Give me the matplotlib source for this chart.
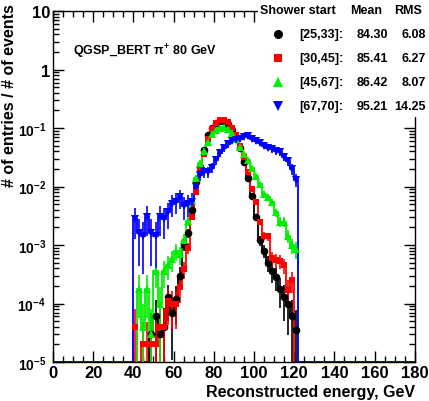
import matplotlib
matplotlib.use('Agg')
import matplotlib.pyplot as plt
from matplotlib.lines import Line2D
from matplotlib.patches import Rectangle
from matplotlib.transforms import ScaledTranslation
import numpy as np

plt.rcParams['font.family'] = ['Liberation Sans', 'DejaVu Sans']
plt.rcParams['font.weight'] = 'bold'
plt.rcParams['mathtext.fontset'] = 'custom'
plt.rcParams['mathtext.rm'] = 'Liberation Sans:bold'
plt.rcParams['mathtext.bf'] = 'Liberation Sans:bold'
plt.rcParams['mathtext.it'] = 'Liberation Sans:bold'

# bin centres of the filled region (2 GeV bins, 40..122 GeV)
centres = [41, 43, 45, 47, 49, 51, 53, 55, 57, 59, 61, 63, 65, 67, 69, 71, 73, 75, 77, 79,
           81, 83, 85, 87, 89, 91, 93, 95, 97, 99, 101, 103, 105, 107, 109, 111, 113, 115, 117, 119, 121]

black_vals = [0, 0, 0, 0, 3e-5, 6e-5, 3e-5, 4e-5, 1.3e-4, 7e-5, 1.2e-4, 3e-4, 1.0e-3, 1.6e-3, 4e-3,
              1.2e-2, 2.2e-2, 4.2e-2, 7.5e-2, 1.0e-1, 1.2e-1, 1.3e-1, 1.3e-1, 1.15e-1, 9.2e-2,
              6.8e-2, 4.5e-2, 2.6e-2, 1.4e-2, 7e-3, 3e-3, 1.2e-3, 8e-4, 5e-4, 3.6e-4, 2.8e-4,
              1.8e-4, 1.3e-4, 1e-4, 6e-5, 3.5e-5]
red_vals = [4e-5, 0, 2e-5, 2e-5, 2e-5, 2e-5, 4e-5, 4e-5, 1.1e-4, 1e-4, 1e-4, 1.9e-4, 3.9e-4, 9e-4,
            3e-3, 8e-3, 1.9e-2, 3.6e-2, 6.5e-2, 9.5e-2, 1.2e-1, 1.35e-1, 1.35e-1, 1.25e-1, 1.02e-1,
            7.5e-2, 5e-2, 3.2e-2, 1.8e-2, 9e-3, 5.4e-3, 2.5e-3, 1.45e-3, 1.4e-3, 6e-4, 5.5e-4,
            5.4e-4, 4.5e-4, 1.7e-4, 2.5e-4, 0]
green_vals = [0, 1.8e-4, 4e-5, 1.8e-4, 3e-5, 3.6e-4, 1e-4, 3.6e-4, 4.5e-4, 5.7e-4, 8e-4, 7e-4,
              1.2e-3, 2.6e-3, 6e-3, 1.4e-2, 2.5e-2, 4e-2, 5.8e-2, 7.8e-2, 9.2e-2, 1.02e-1, 1.05e-1,
              9.8e-2, 8.3e-2, 6.5e-2, 4.8e-2, 3.6e-2, 2.8e-2, 2.1e-2, 1.5e-2, 1.1e-2, 7.5e-3,
              6.5e-3, 5.4e-3, 3.6e-3, 2.5e-3, 2.5e-3, 1.45e-3, 1.0e-3, 8.5e-4]
blue_vals = [2.8e-3, 1.6e-3, 1.4e-3, 3e-3, 1.6e-3, 1.4e-3, 3e-3, 2.8e-3, 3.6e-3, 5e-3, 5.5e-3,
             6.5e-3, 4.7e-3, 5e-3, 5.5e-3, 1e-2, 1.6e-2, 1.8e-2, 1.8e-2, 2.1e-2, 2.8e-2, 3.8e-2,
             4.5e-2, 5.3e-2, 6e-2, 6.3e-2, 6.6e-2, 7e-2, 7.2e-2, 6.6e-2, 6e-2, 5.6e-2,
             5e-2, 4.6e-2, 4.4e-2, 4.1e-2, 3.9e-2, 3.2e-2, 2.7e-2, 2e-2, 1.3e-2]

# number of events per sample (sets the size of the error bars)
n_events = [20000, 25000, 12000, 1200]

ranges = ['[25,33]:', '[30,45]:', '[45,67]:', '[67,70]:']
means = ['84.30', '85.41', '86.42', '95.21']
rms = ['6.08', '6.27', '8.07', '14.25']

colors = ['black', '#ff0000', '#00ee00', '#0000ff']
markers = ['o', 's', '^', 'v']
msizes = [5.5, 5, 5.5, 5.5]

YMIN = 1e-5

fig = plt.figure(figsize=(4.29, 4.02), dpi=100)
ax = fig.add_axes([0.1235, 0.097, 0.8435, 0.873])

edges = np.arange(0, 182, 2)
for vals, nev, col, mk, ms in zip([black_vals, red_vals, green_vals, blue_vals], n_events,
                                  colors, markers, msizes):
    full = np.zeros(len(edges) - 1)
    idx = ((np.array(centres) - 1) // 2).astype(int)
    full[idx] = vals
    ax.stairs(np.where(full > 0, full, YMIN), edges, color=col, lw=1.3, zorder=2)
    v = np.array(vals)
    c = np.array(centres)
    ok = v > 0
    err = np.sqrt(v[ok] / nev)
    lo = np.minimum(err, v[ok] * 0.999)
    ax.errorbar(c[ok], v[ok], yerr=[lo, err], fmt=mk, color=col, ms=ms, mew=0,
                elinewidth=1.2, capsize=0, zorder=3)

ax.set_yscale('log')
ax.set_xlim(0, 180)
ax.set_ylim(YMIN, 10)

ax.set_xticks(np.arange(0, 181, 20))
ax.set_xticks(np.arange(0, 181, 5), minor=True)
ax.set_xticklabels([str(t) for t in range(0, 181, 20)], fontsize=12, fontweight='bold')
yt = [1e-5, 1e-4, 1e-3, 1e-2, 1e-1, 1, 10]
ax.set_yticks(yt)
ax.set_yticklabels([r'$10^{-5}$', r'$10^{-4}$', r'$10^{-3}$', r'$10^{-2}$', r'$10^{-1}$', '1', '10'],
                   fontsize=12)
ax.yaxis.set_minor_locator(matplotlib.ticker.LogLocator(base=10, subs=np.arange(2, 10), numticks=20))
ax.yaxis.set_minor_formatter(matplotlib.ticker.NullFormatter())
ax.tick_params(which='both', direction='in', top=True, right=True, width=1)
ax.tick_params(which='major', length=8, pad=2)
ax.tick_params(which='minor', length=4)
for s in ax.spines.values():
    s.set_linewidth(1)

# exponent labels are a bit smaller and sit further left, as in ROOT
for lab in ax.get_yticklabels()[:5]:
    lab.set_fontsize(10)
    lab.set_transform(lab.get_transform() + ScaledTranslation(-3 / 72, 0, fig.dpi_scale_trans))

ax.set_xlabel('Reconstructed energy, GeV', fontsize=11.5, fontweight='bold', loc='right', labelpad=3)
fig.text(10 / 429, 1 - 4 / 402, '# of entries / # of events', fontsize=11.5, fontweight='bold',
         rotation=90, ha='center', va='top')

fig.text(73 / 429, 1 - 52 / 402, r'QGSP_BERT $\pi^{+}$ 80 GeV', fontsize=9, ha='left', va='center')

# legend block in the top right corner
fig.patches.append(Rectangle((258 / 429, 1 - 118 / 402), 171 / 429, 118 / 402,
                             transform=fig.transFigure, facecolor='white', edgecolor='none', zorder=5))
fig.text(260 / 429, 1 - 11 / 402, 'Shower start', fontsize=9, ha='left', va='center', zorder=6)
fig.text(350 / 429, 1 - 11 / 402, 'Mean', fontsize=9, ha='left', va='center', zorder=6)
fig.text(394 / 429, 1 - 11 / 402, 'RMS', fontsize=9, ha='left', va='center', zorder=6)
for i in range(4):
    yy = 1 - (35 + 24 * i) / 402
    fig.add_artist(Line2D([278 / 429], [yy], marker=markers[i], color=colors[i], ms=msizes[i] + 1, mew=0,
                          transform=fig.transFigure, zorder=6))
    fig.text(299 / 429, yy, ranges[i], fontsize=9, ha='left', va='center', zorder=6)
    fig.text(388 / 429, yy, means[i], fontsize=9, ha='right', va='center', zorder=6)
    fig.text(426 / 429, yy, rms[i], fontsize=9, ha='right', va='center', zorder=6)

fig.savefig('out.png', dpi=100)
